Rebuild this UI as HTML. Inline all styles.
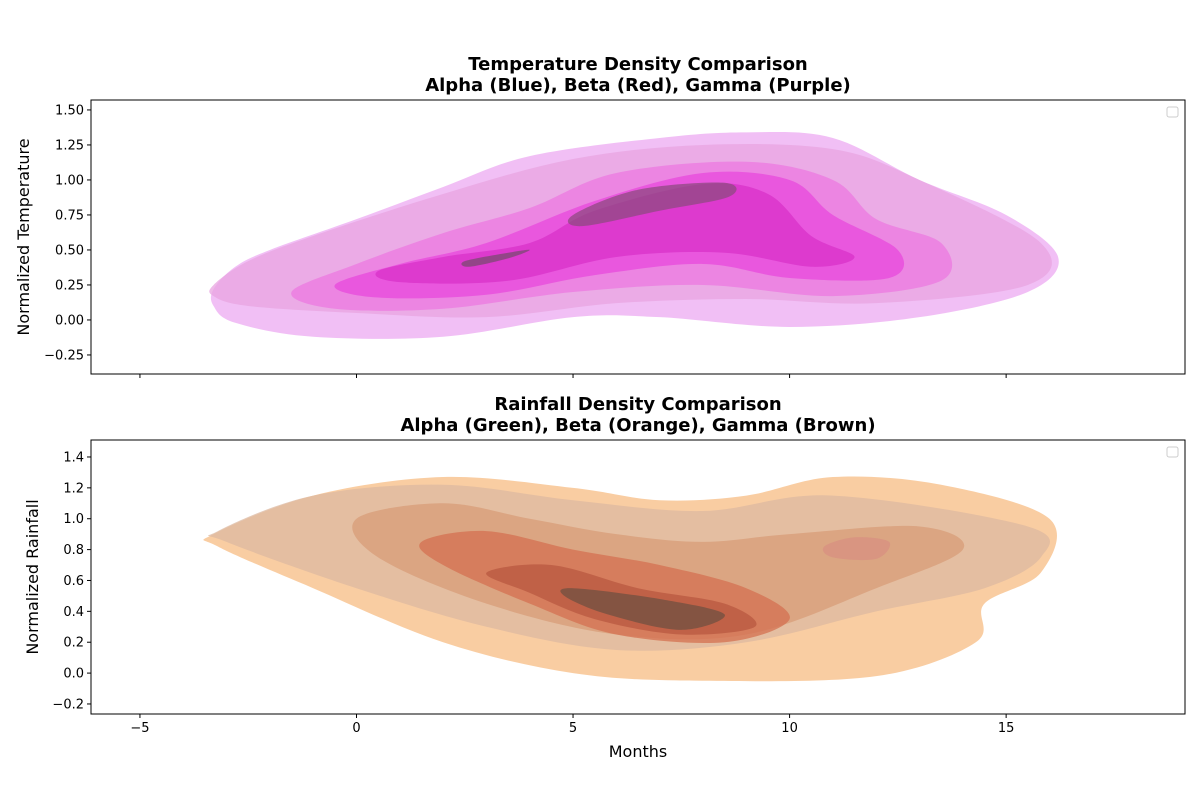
<!DOCTYPE html>
<html><head><meta charset="utf-8"><style>
body{margin:0;background:#fff;font-family:"Liberation Sans","DejaVu Sans",sans-serif}
svg text{font-family:"DejaVu Sans","Liberation Sans",sans-serif}
</style></head><body>
<svg id="c" width="1200" height="800" viewBox="0 0 1200 800" xmlns="http://www.w3.org/2000/svg"></svg>
<script>
const xTicks=[-5,0,5,10,15];
const tempTicks=[-0.25,0,0.25,0.5,0.75,1.0,1.25,1.5];
const rainTicks=[-0.2,0,0.2,0.4,0.6,0.8,1.0,1.2,1.4];
const tempColors=["#f0b8f4","#e8a4e0","#ec78e0","#e848dc","#d830c8","#8e4a80","#7a4a70"];
const tempLevels=[
[[-3.3,0.22],[-2.8,0.38],[-2,0.5],[0,0.72],[2,0.95],[4,1.17],[7,1.3],[9,1.34],[11,1.3],[13,1.0],[15,0.75],[16.2,0.45],[15.5,0.2],[13,0.02],[10,-0.05],[7,0.02],[5,0.02],[2,-0.12],[-1,-0.12],[-2.8,-0.02],[-3.3,0.1]],
[[-3.3,0.25],[-2.5,0.42],[-1,0.6],[2,0.9],[5,1.15],[8,1.25],[11,1.22],[13,1.0],[15.8,0.55],[15.5,0.25],[12,0.12],[9,0.15],[6,0.12],[3,0.02],[0,0.05],[-2.5,0.1],[-3.3,0.17]],
[[-1.5,0.2],[0,0.4],[2,0.62],[4,0.8],[6,1.05],[9,1.13],[11,1.0],[12,0.72],[13.5,0.55],[13.5,0.28],[11,0.17],[8,0.25],[5,0.2],[2,0.08],[-0.5,0.08]],
[[-0.5,0.25],[1,0.4],[3,0.55],[5.5,0.85],[8,1.05],[10,1.0],[11,0.75],[12.5,0.5],[12.3,0.3],[10,0.3],[8,0.4],[5.5,0.32],[3,0.18],[0.5,0.16]],
[[0.5,0.35],[2,0.45],[4,0.55],[5.5,0.78],[8,0.97],[9.5,0.9],[10.5,0.6],[11.5,0.45],[10.5,0.38],[8.5,0.48],[6,0.45],[3.5,0.28],[1,0.27]],
[[5,0.75],[6.5,0.93],[8.5,0.98],[8.6,0.88],[7,0.78],[5.2,0.67]],
[[2.5,0.42],[3.5,0.48],[4,0.5],[3.5,0.44],[2.6,0.38]]];
const rainColors=["#f8c898","#dcb8a0","#d89c78","#d47050","#b85840","#705040","#d89080"];
const rainLevels=[
[[-3.3,0.9],[-1,1.15],[2,1.27],[5,1.2],[7,1.12],[9,1.15],[11,1.27],[13.5,1.22],[16,1.0],[15.8,0.65],[14.5,0.45],[14.3,0.2],[12,-0.02],[8,-0.05],[5,0.0],[2,0.2],[-1,0.55],[-3.2,0.82]],
[[-3.2,0.92],[-1,1.15],[2,1.22],[5,1.12],[8,1.05],[11,1.15],[15.5,0.95],[15.8,0.75],[14.5,0.55],[12,0.4],[9,0.2],[6,0.15],[3,0.3],[0,0.55],[-3,0.85]],
[[0,1.0],[2,1.1],[4,1.0],[6,0.9],[8,0.85],[10,0.9],[13,0.95],[14,0.8],[12,0.55],[9,0.25],[6,0.25],[3,0.45],[0.5,0.75]],
[[1.5,0.85],[3,0.92],[5,0.8],[7,0.7],[9,0.55],[10,0.35],[8.5,0.2],[6,0.25],[4,0.45],[2,0.7]],
[[3,0.65],[4.5,0.7],[6.5,0.55],[8.5,0.45],[9.2,0.3],[7.5,0.25],[5.5,0.35],[4,0.52]],
[[5,0.55],[7,0.48],[8.5,0.38],[7.5,0.28],[5.8,0.38],[4.8,0.5]],
[[10.8,0.82],[11.5,0.88],[12.3,0.85],[12,0.74],[11,0.75]]];
const NS="http://www.w3.org/2000/svg",svg=document.getElementById('c');
function mk(t,a,p){const e=document.createElementNS(NS,t);for(const k in a)e.setAttribute(k,a[k]);(p||svg).appendChild(e);return e;}
const X0=91,X1=1185,xMin=-6.13,xMax=19.13;
const xs=v=>X0+(v-xMin)/(xMax-xMin)*(X1-X0);
function spline(pts){const n=pts.length;let d=`M${pts[0][0]},${pts[0][1]}`;
for(let i=0;i<n;i++){const p0=pts[(i-1+n)%n],p1=pts[i],p2=pts[(i+1)%n],p3=pts[(i+2)%n];
d+=`C${p1[0]+(p2[0]-p0[0])/6},${p1[1]+(p2[1]-p0[1])/6} ${p2[0]-(p3[0]-p1[0])/6},${p2[1]-(p3[1]-p1[1])/6} ${p2[0]},${p2[1]}`;}return d+'Z';}
function panel(o){
const ys=v=>o.top+(o.yMax-v)/(o.yMax-o.yMin)*(o.bot-o.top);
const g=mk('g',{});
o.levels.forEach((lv,i)=>{const p=mk('path',{d:spline(lv.map(q=>[xs(q[0]),ys(q[1])])),fill:o.colors[i],'fill-opacity':i==0?0.9:0.75},g);
});
mk('rect',{x:X0,y:o.top,width:X1-X0,height:o.bot-o.top,fill:'none',stroke:'#000','stroke-width':1},g);
o.yt.forEach(t=>{const y=ys(t);mk('line',{x1:X0-4,x2:X0,y1:y,y2:y,stroke:'#000'},g);
const tx=mk('text',{x:X0-7,y:y+4.5,'text-anchor':'end','font-size':13},g);tx.textContent=o.fmt(t);});
xTicks.forEach(t=>{const x=xs(t);mk('line',{x1:x,x2:x,y1:o.bot,y2:o.bot+4,stroke:'#000'},g);
if(o.xl){const tx=mk('text',{x:x,y:o.bot+18,'text-anchor':'middle','font-size':13},g);tx.textContent=t<0?'\u2212'+(-t):t;}});
o.title.forEach((s,i)=>{const t=mk('text',{x:638,y:o.top-30+i*21,'text-anchor':'middle','font-size':18,'font-weight':'bold'},g);t.textContent=s;
});
const yl=mk('text',{x:0,y:0,transform:`translate(${o.ylx},${(o.top+o.bot)/2}) rotate(-90)`,'text-anchor':'middle','font-size':16},g);yl.textContent=o.ylabel;

const lg=mk('rect',{x:1167,y:o.top+7,width:11,height:10,rx:2,fill:'#fff',stroke:'#ccc'},g);

}
panel({name:'temperature-panel',top:100,bot:374,yMin:-0.386,yMax:1.571,levels:tempLevels,colors:tempColors,yt:tempTicks,fmt:v=>(v<0?'\u2212':'')+Math.abs(v).toFixed(2),xl:false,
title:['Temperature Density Comparison','Alpha (Blue), Beta (Red), Gamma (Purple)'],ylabel:'Normalized Temperature',ylx:29});
panel({name:'rainfall-panel',top:440,bot:714,yMin:-0.265,yMax:1.51,levels:rainLevels,colors:rainColors,yt:rainTicks,fmt:v=>(v<0?'\u2212':'')+Math.abs(v).toFixed(1),xl:true,
title:['Rainfall Density Comparison','Alpha (Green), Beta (Orange), Gamma (Brown)'],ylabel:'Normalized Rainfall',ylx:38});
const xt=mk('text',{x:638,y:757,'text-anchor':'middle','font-size':16});xt.textContent='Months';


</script>
</body></html>
